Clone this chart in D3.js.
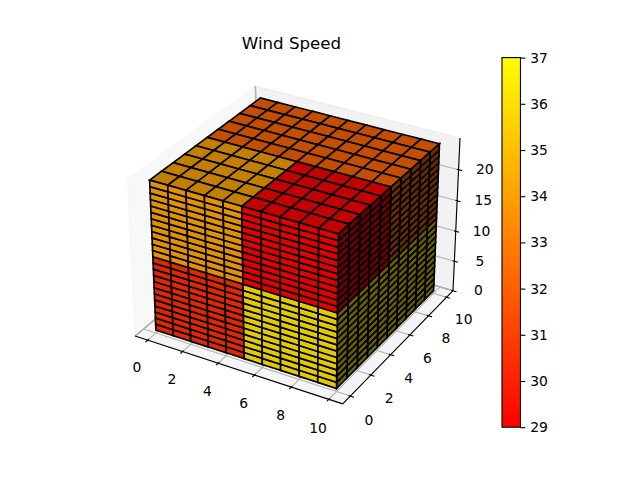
<!DOCTYPE html>
<html>
<head>
<meta charset="utf-8">
<script src="https://cdn.jsdelivr.net/npm/d3@7"></script>
<style>html,body{margin:0;padding:0;background:#fff}svg{display:block}text{font-family:"DejaVu Sans";fill:#000}</style>
</head>
<body>
<svg id="chart" width="640" height="480"></svg>
<script>
// ---- data ----
const chartTitle = "Wind Speed";
const gridShape = [10, 10, 24];
const zBase = 0.5;
// wind speed of each block: [x < 5, x >= 5] for each y half
const lowerFrontValues = [30.4, 36.2];
const lowerBackValues  = [33.0, 36.2];
const upperFrontValues = [34.2, 29.0];
const upperBackValues  = [32.2, 32.2];
const xTicks = [0, 2, 4, 6, 8, 10];
const yTicks = [0, 2, 4, 6, 8, 10];
const zTicks = [0, 5, 10, 15, 20];
const colorbarTicks = [29, 30, 31, 32, 33, 34, 35, 36, 37];
const colorRange = [29, 37];

// ---- page geometry ----
const PT = 100 / 72;
const svg = d3.select("#chart");
const side = 369.6, left = 292 - side / 2, top_ = 57.6;

// ---- 3D projection (elev 30, azim -60, dist 10, box 4:4:3) ----
const margin = 0.05;
function limits(n) { return [-margin * n, n + margin * n]; }
const xLim = limits(gridShape[0]), yLim = limits(gridShape[1]), zLim = [zBase, gridShape[2] + zBase];
const norm = Math.hypot(4, 4, 3), k = 1.8294640721620434 / norm;
const box = [4 * k, 4 * k, 3 * k];
const xBox = d3.scaleLinear(xLim, [0, box[0]]);
const yBox = d3.scaleLinear(yLim, [0, box[1]]);
const zBox = d3.scaleLinear(zLim, [0, box[2]]);
const elev = 30 * Math.PI / 180, azim = -60 * Math.PI / 180, dist = 10;
const wDir = [Math.cos(elev) * Math.cos(azim), Math.cos(elev) * Math.sin(azim), Math.sin(elev)];
const centre = box.map(b => b / 2);
const eye = centre.map((c, i) => c + dist * wDir[i]);
const cross = (a, b) => [a[1]*b[2]-a[2]*b[1], a[2]*b[0]-a[0]*b[2], a[0]*b[1]-a[1]*b[0]];
const dot = (a, b) => a[0]*b[0] + a[1]*b[1] + a[2]*b[2];
const unit = a => { const m = Math.hypot(...a); return a.map(v => v / m); };
const uDir = unit(cross([0, 0, 1], wDir));
const vDir = cross(wDir, uDir);
const xPx = d3.scaleLinear([-0.95 / dist, 0.9 / dist], [left, left + side]);
const yPx = d3.scaleLinear([-0.95 / dist, 0.9 / dist], [top_ + side, top_]);
function view(p) {
  const q = [xBox(p[0]) - eye[0], yBox(p[1]) - eye[1], zBox(p[2]) - eye[2]];
  return [dot(uDir, q), dot(vDir, q), dot(wDir, q)];
}
function project(p) {
  const [a, b, c] = view(p);
  return [xPx(a / -c), yPx(b / -c)];
}
const line = d3.line();

// ---- axis bounds, panes, grid ----
const paneInfo = [xLim, yLim, zLim].map(l => {
  const d = (l[1] - l[0]) / 12;
  return { min: l[0] - d / 4, max: l[1] + d / 4, delta: d };
});
const mins = paneInfo.map(a => a.min), maxs = paneInfo.map(a => a.max);
const deltas = paneInfo.map(a => (a.max - a.min) / 12);
const centers = mins.map((m, i) => (m + maxs[i]) / 2);
const highs = [false, true, false];
const minmax = mins.map((m, i) => highs[i] ? maxs[i] : m);
const maxmin = mins.map((m, i) => highs[i] ? m : maxs[i]);
const [x0, x1] = [mins[0], maxs[0]], [y0, y1] = [mins[1], maxs[1]], [z0, z1] = [mins[2], maxs[2]];
const panes = [
  { pts: [[x0,y0,z0],[x0,y1,z0],[x0,y1,z1],[x0,y0,z1]], c: 0.95 },
  { pts: [[x0,y1,z0],[x1,y1,z0],[x1,y1,z1],[x0,y1,z1]], c: 0.90 },
  { pts: [[x0,y0,z0],[x1,y0,z0],[x1,y1,z0],[x0,y1,z0]], c: 0.925 }
];
svg.append("g").selectAll("path").data(panes).join("path")
  .attr("d", d => line(d.pts.map(project)) + "Z")
  .attr("fill", d => d3.rgb(255 * d.c, 255 * d.c, 255 * d.c))
  .attr("fill-opacity", 0.5)
  .attr("stroke", d => d3.rgb(255 * d.c, 255 * d.c, 255 * d.c))
  .attr("stroke-opacity", 0.5)
  .attr("stroke-width", PT);

const axes = [
  { index: 0, ticks: xTicks, juggled: [1, 0, 2], tickdir: 1, zPadScale: 1.33, dx: 0, dy: 0 },
  { index: 1, ticks: yTicks, juggled: [0, 1, 2], tickdir: 0, zPadScale: 1.33, dx: 0, dy: 0 },
  { index: 2, ticks: zTicks, juggled: [0, 2, 1], tickdir: 0, zPadScale: 1, dx: -1, dy: 3 }
];
const flip = (p, i) => (p[i] === mins[i] ? maxs[i] : mins[i]);
const gridG = svg.append("g"), axisG = svg.append("g");
const deltasPerPoint = 48 / (72 * (side / 100) * 2);
const labelPad = (3.5 + 8) * deltasPerPoint;
axes.forEach(ax => {
  const e1 = minmax.slice();
  e1[ax.juggled[0]] = flip(e1, ax.juggled[0]);
  const e2 = e1.slice();
  e2[ax.juggled[1]] = flip(e2, ax.juggled[1]);
  axisG.append("path").attr("d", line([e1, e2].map(project)))
    .attr("stroke", "#000").attr("stroke-width", 0.8 * PT).attr("fill", "none");
  const sign = highs[ax.tickdir] ? 1 : -1;
  ax.ticks.forEach(t => {
    const g0 = minmax.slice(); g0[ax.index] = t;
    const g1 = g0.slice(), g2 = g0.slice();
    g1[ax.juggled[0]] = maxmin[ax.juggled[0]];
    g2[ax.juggled[1]] = maxmin[ax.juggled[1]];
    gridG.append("path").attr("d", line([g1, g0, g2].map(project)))
      .attr("stroke", "#b0b0b0").attr("stroke-width", 0.8 * PT).attr("fill", "none");
    const a = e1.slice(), b = e1.slice();
    a[ax.index] = b[ax.index] = t;
    a[ax.tickdir] = e1[ax.tickdir] + 0.1 * sign * deltas[ax.tickdir];
    b[ax.tickdir] = e1[ax.tickdir] - 0.2 * sign * deltas[ax.tickdir];
    axisG.append("path").attr("d", line([a, b].map(project)))
      .attr("stroke", "#000").attr("stroke-width", 0.8 * PT).attr("fill", "none");
    const lab = e1.slice(); lab[ax.index] = t;
    [0, 1, 2].forEach(i => {
      const f = i === 2 ? ax.zPadScale : 1;
      if (i !== ax.index) lab[i] += f * labelPad * deltas[i] * Math.sign(lab[i] - centers[i]);
    });
    const [lx, ly] = project(lab);
    axisG.append("text").attr("x", lx + ax.dx).attr("y", ly + ax.dy)
      .attr("text-anchor", "middle").attr("dominant-baseline", "central")
      .attr("font-size", 10 * PT).text(t);
  });
});

// ---- voxels ----
const colorScale = d3.scaleLinear(colorRange, [0, 255]);
const valueAt = (i, j, k) => {
  const h = i < gridShape[0] / 2 ? 0 : 1, back = j >= gridShape[1] / 2, up = k >= gridShape[2] / 2;
  return (up ? (back ? upperBackValues : upperFrontValues) : (back ? lowerBackValues : lowerFrontValues))[h];
};
const light = [-2 / 3, -2 / 3, 1 / 3];
const shade = n => 0.3 + 0.7 * (dot(n, light) + 1) / 2;
const faces = [];
function addFace(i, j, k, pts, n) {
  const s = shade(n), v = valueAt(i, j, k);
  const depth = d3.mean(pts, p => view(p)[2]);
  faces.push({ pts, depth, fill: d3.rgb(255 * s, colorScale(v) * s, 0) });
}
for (let i = 0; i < gridShape[0]; i++) {
  for (let j = 0; j < gridShape[1]; j++) {
    const k = gridShape[2] - 1, z = k + zBase;
    addFace(i, j, k, [[i,j,z+1],[i+1,j,z+1],[i+1,j+1,z+1],[i,j+1,z+1]], [0, 0, 1]);
  }
}
for (let k = 0; k < gridShape[2]; k++) {
  const z = k + zBase;
  for (let i = 0; i < gridShape[0]; i++)
    addFace(i, 0, k, [[i,0,z],[i+1,0,z],[i+1,0,z+1],[i,0,z+1]], [0, -1, 0]);
  for (let j = 0; j < gridShape[1]; j++) {
    const X = gridShape[0];
    addFace(X - 1, j, k, [[X,j,z],[X,j+1,z],[X,j+1,z+1],[X,j,z+1]], [1, 0, 0]);
  }
}
faces.sort((a, b) => a.depth - b.depth);
svg.append("g").selectAll("path").data(faces).join("path")
  .attr("d", d => line(d.pts.map(project)) + "Z")
  .attr("fill", d => d.fill)
  .attr("stroke", "#000")
  .attr("stroke-width", 1.2 * PT)
  .attr("stroke-linejoin", "miter");

// ---- title ----
svg.append("text").attr("x", 291.5).attr("y", 49).attr("text-anchor", "middle")
  .attr("font-size", 12 * PT).text(chartTitle);

// ---- colorbar ----
const cbX = 502, cbW = 18.48, cbTop = 57.6, cbBottom = 427.2;
const cbY = d3.scaleLinear(colorRange, [cbBottom, cbTop]);
const defs = svg.append("defs");
const grad = defs.append("linearGradient").attr("id", "autumn")
  .attr("x1", 0).attr("y1", 1).attr("x2", 0).attr("y2", 0);
colorRange.forEach((v, i) => grad.append("stop").attr("offset", i)
  .attr("stop-color", d3.rgb(255, colorScale(v), 0)));
svg.append("rect").attr("x", cbX).attr("y", cbTop).attr("width", cbW)
  .attr("height", cbBottom - cbTop).attr("fill", "url(#autumn)")
  .attr("stroke", "#000").attr("stroke-width", 0.8 * PT);
const cbAxis = d3.axisRight(cbY).tickValues(colorbarTicks).tickSize(3.5 * PT).tickPadding(3.5 * PT);
const cbG = svg.append("g").attr("transform", `translate(${cbX + cbW},0)`).call(cbAxis);
cbG.select(".domain").remove();
cbG.selectAll("line").attr("stroke", "#000").attr("stroke-width", 0.8 * PT);
cbG.selectAll("text").attr("font-size", 10 * PT).attr("font-family", "DejaVu Sans").attr("fill", "#000");
</script>
</body>
</html>
